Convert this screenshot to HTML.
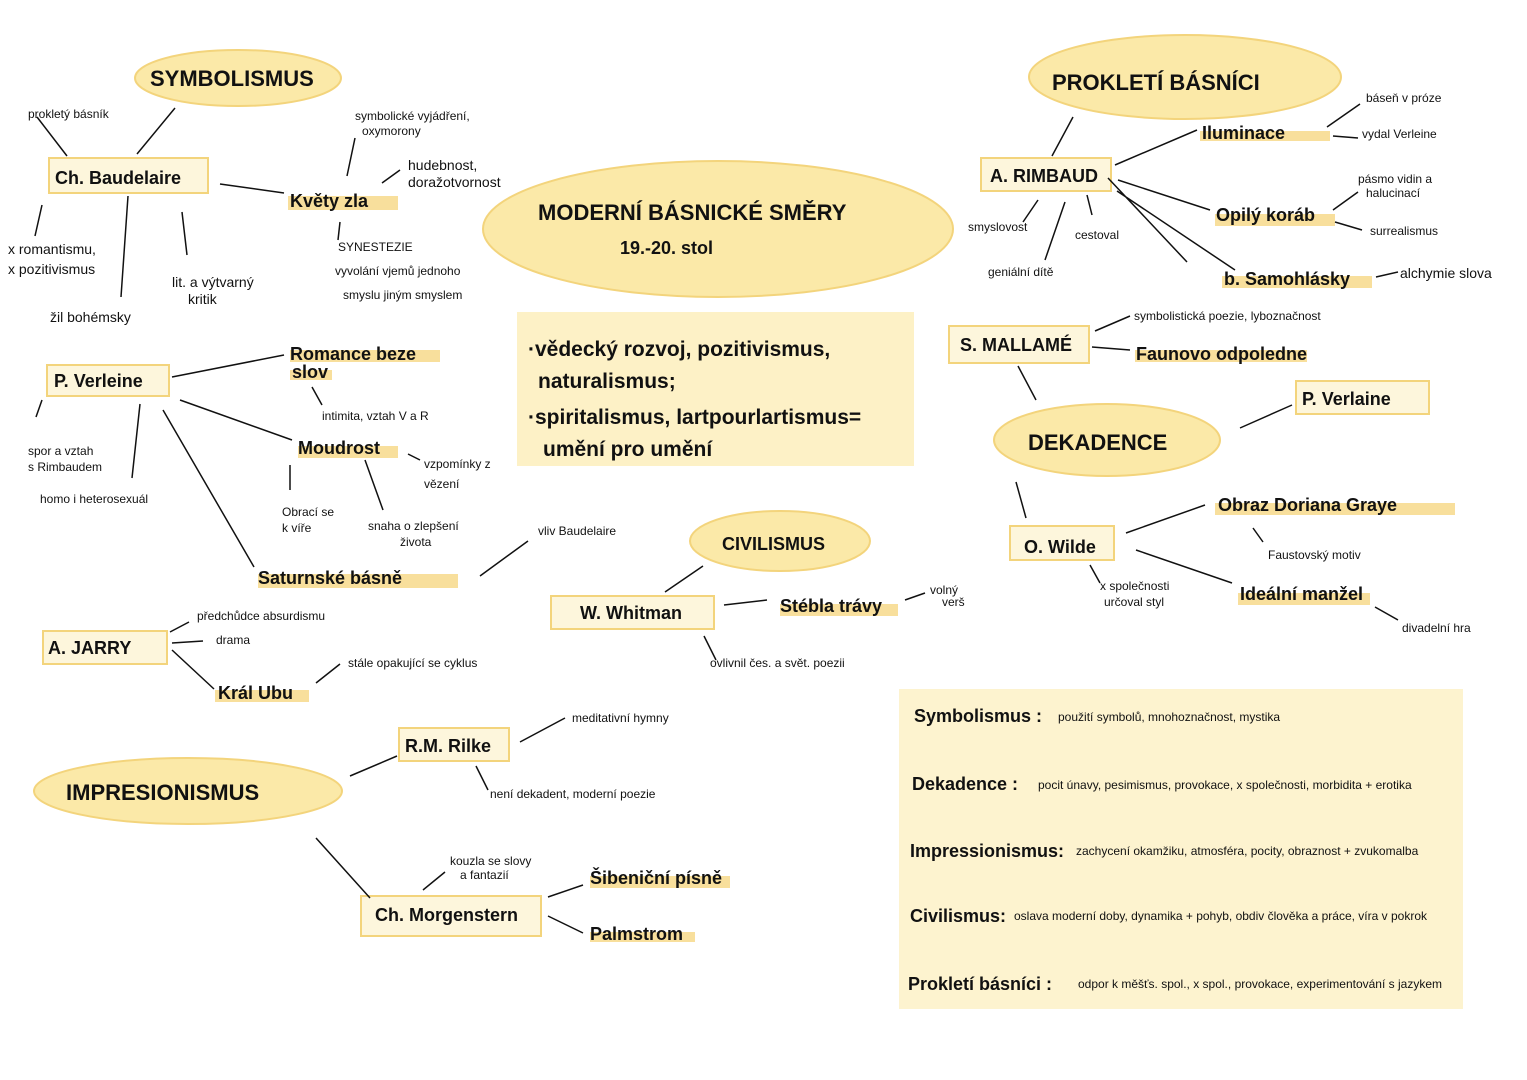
<!DOCTYPE html>
<html><head><meta charset="utf-8"><style>
html,body{margin:0;padding:0;background:#fff}
svg{display:block}
text{font-family:"Liberation Sans",sans-serif;fill:#111}
.s{font-size:12px}
.m{font-size:14px}
.b{font-size:18px;font-weight:bold}
.t{font-size:22px;font-weight:bold}
</style></head><body>
<svg width="1527" height="1080" viewBox="0 0 1527 1080" xmlns="http://www.w3.org/2000/svg">
<g fill="#fbe9a8" stroke="#f3d47c" stroke-width="2">
<ellipse cx="238" cy="78" rx="103" ry="28"/>
<ellipse cx="1185" cy="77" rx="156" ry="42"/>
<ellipse cx="718" cy="229" rx="235" ry="68"/>
<ellipse cx="1107" cy="440" rx="113" ry="36"/>
<ellipse cx="780" cy="541" rx="90" ry="30"/>
<ellipse cx="188" cy="791" rx="154" ry="33"/>
</g>
<rect x="517" y="312" width="397" height="154" fill="#fdf1c6"/>
<rect x="899" y="689" width="564" height="320" fill="#fdf3cf"/>
<g fill="#fdf6dc" stroke="#f3d47c" stroke-width="2">
<rect x="49" y="158" width="159" height="35"/>
<rect x="47" y="365" width="122" height="31"/>
<rect x="43" y="631" width="124" height="33"/>
<rect x="981" y="158" width="130" height="33"/>
<rect x="949" y="326" width="140" height="37"/>
<rect x="1296" y="381" width="133" height="33"/>
<rect x="1010" y="526" width="104" height="34"/>
<rect x="551" y="596" width="163" height="33"/>
<rect x="399" y="728" width="110" height="33"/>
<rect x="361" y="896" width="180" height="40"/>
</g>
<g fill="#f8df9c">
<rect x="288" y="196" width="110" height="14"/>
<rect x="290" y="350" width="150" height="12"/>
<rect x="290" y="370" width="42" height="10"/>
<rect x="298" y="446" width="100" height="12"/>
<rect x="258" y="574" width="200" height="14"/>
<rect x="215" y="690" width="94" height="12"/>
<rect x="780" y="604" width="118" height="12"/>
<rect x="1200" y="131" width="130" height="10"/>
<rect x="1215" y="214" width="120" height="12"/>
<rect x="1222" y="276" width="150" height="12"/>
<rect x="1135" y="350" width="172" height="12"/>
<rect x="1215" y="503" width="240" height="12"/>
<rect x="1238" y="593" width="132" height="12"/>
<rect x="590" y="876" width="140" height="12"/>
<rect x="590" y="932" width="105" height="10"/>
</g>
<g stroke="#111" stroke-width="1.5" fill="none">
<path d="M175 108 L137 154 M37 117 L67 156 M220 184 L284 193 M128 196 L121 297 M182 212 L187 255 M42 205 L35 236"/>
<path d="M355 138 L347 176 M382 183 L400 170 M340 222 L338 240"/>
<path d="M172 377 L284 355 M163 410 L254 567 M140 404 L132 478 M42 400 L36 417 M180 400 L292 440 M312 387 L322 405 M290 465 L290 490 M365 460 L383 510 M408 454 L420 460 M480 576 L528 541"/>
<path d="M170 632 L189 622 M172 643 L203 641 M172 650 L214 689 M316 683 L340 664"/>
<path d="M665 592 L703 566 M724 605 L767 600 M905 600 L925 593 M704 636 L716 660"/>
<path d="M1073 117 L1052 156 M1115 165 L1197 130 M1118 180 L1210 210 M1117 191 L1235 270 M1108 178 L1187 262 M1038 200 L1023 222 M1065 202 L1045 260 M1087 195 L1092 215 M1327 127 L1360 104 M1333 136 L1358 138 M1333 210 L1358 192 M1335 222 L1362 230 M1376 277 L1398 272"/>
<path d="M1095 331 L1130 316 M1092 347 L1130 350 M1018 366 L1036 400 M1240 428 L1292 405"/>
<path d="M1016 482 L1026 518 M1126 533 L1205 505 M1136 550 L1232 583 M1253 528 L1263 542 M1090 565 L1100 583 M1375 607 L1398 620"/>
<path d="M350 776 L397 756 M520 742 L565 718 M476 766 L488 790 M316 838 L370 898 M423 890 L445 872 M548 897 L583 885 M548 916 L583 933"/>
</g>
<text x="150" y="86" class="t" font-size="20">SYMBOLISMUS</text>
<text x="28" y="118" class="s">prokletý básník</text>
<text x="55" y="184" class="b" font-size="20">Ch. Baudelaire</text>
<text x="290" y="207" class="b">Květy zla</text>
<text x="355" y="120" class="s">symbolické vyjádření,</text>
<text x="362" y="135" class="s">oxymorony</text>
<text x="408" y="170" class="m">hudebnost,</text>
<text x="408" y="187" class="m">doražotvornost</text>
<text x="338" y="251" class="s">SYNESTEZIE</text>
<text x="335" y="275" class="s" font-size="10">vyvolání vjemů jednoho</text>
<text x="343" y="299" class="s" font-size="10">smyslu jiným smyslem</text>
<text x="8" y="254" class="m">x romantismu,</text>
<text x="8" y="274" class="m">x pozitivismus</text>
<text x="172" y="287" class="m">lit. a výtvarný</text>
<text x="188" y="304" class="m">kritik</text>
<text x="50" y="322" class="m">žil bohémsky</text>
<text x="54" y="387" class="b">P. Verleine</text>
<text x="290" y="360" class="b">Romance beze</text>
<text x="292" y="378" class="b">slov</text>
<text x="322" y="420" class="s">intimita, vztah V a R</text>
<text x="298" y="454" class="b">Moudrost</text>
<text x="28" y="455" class="s">spor a vztah</text>
<text x="28" y="471" class="s">s Rimbaudem</text>
<text x="40" y="503" class="s">homo i heterosexuál</text>
<text x="424" y="468" class="s">vzpomínky z</text>
<text x="424" y="488" class="s">vězení</text>
<text x="282" y="516" class="s">Obrací se</text>
<text x="282" y="532" class="s">k víře</text>
<text x="368" y="530" class="s">snaha o zlepšení</text>
<text x="400" y="546" class="s">života</text>
<text x="538" y="535" class="s">vliv Baudelaire</text>
<text x="258" y="584" class="b" font-size="20">Saturnské básně</text>
<text x="48" y="654" class="b">A. JARRY</text>
<text x="197" y="620" class="s" font-size="11">předchůdce absurdismu</text>
<text x="216" y="644" class="s" font-size="11">drama</text>
<text x="218" y="699" class="b" font-size="16">Král Ubu</text>
<text x="348" y="667" class="s" font-size="11">stále opakující se cyklus</text>
<text x="538" y="220" class="t" font-size="26">MODERNÍ BÁSNICKÉ SMĚRY</text>
<text x="620" y="254" class="b" font-size="22">19.-20. stol</text>
<text x="528" y="356" font-size="21" font-weight="bold">·vědecký rozvoj, pozitivismus,</text>
<text x="538" y="388" font-size="21" font-weight="bold">naturalismus;</text>
<text x="528" y="424" font-size="21" font-weight="bold">·spiritalismus, lartpourlartismus=</text>
<text x="543" y="456" font-size="21" font-weight="bold">umění pro umění</text>
<text x="722" y="550" class="b" font-size="20">CIVILISMUS</text>
<text x="580" y="619" class="b" font-size="19">W. Whitman</text>
<text x="780" y="612" class="b" font-size="17">Stébla trávy</text>
<text x="930" y="594" class="s" font-size="10">volný</text>
<text x="942" y="606" class="s" font-size="10">verš</text>
<text x="710" y="667" class="s">ovlivnil čes. a svět. poezii</text>
<text x="1052" y="90" class="t" font-size="26">PROKLETÍ BÁSNÍCI</text>
<text x="990" y="182" class="b">A. RIMBAUD</text>
<text x="1202" y="139" class="b">Iluminace</text>
<text x="1366" y="102" class="s">báseň v próze</text>
<text x="1362" y="138" class="s">vydal Verleine</text>
<text x="1216" y="221" class="b" font-size="17">Opilý koráb</text>
<text x="1358" y="183" class="s" font-size="11">pásmo vidin a</text>
<text x="1366" y="197" class="s" font-size="11">halucinací</text>
<text x="1370" y="235" class="s" font-size="11">surrealismus</text>
<text x="968" y="231" class="s">smyslovost</text>
<text x="1075" y="239" class="s">cestoval</text>
<text x="988" y="276" class="s">geniální dítě</text>
<text x="1224" y="285" class="b" font-size="17">b. Samohlásky</text>
<text x="1400" y="278" class="m">alchymie slova</text>
<text x="960" y="351" class="b">S. MALLAMÉ</text>
<text x="1134" y="320" class="s" font-size="11">symbolistická poezie, lyboznačnost</text>
<text x="1136" y="360" class="b" font-size="16">Faunovo odpoledne</text>
<text x="1302" y="405" class="b" font-size="20">P. Verlaine</text>
<text x="1028" y="450" class="t" font-size="28" font-weight="normal">DEKADENCE</text>
<text x="1218" y="511" class="b">Obraz Doriana Graye</text>
<text x="1024" y="553" class="b">O. Wilde</text>
<text x="1268" y="559" class="s">Faustovský motiv</text>
<text x="1100" y="590" class="s" font-size="11">x společnosti</text>
<text x="1104" y="606" class="s" font-size="11">určoval styl</text>
<text x="1240" y="600" class="b">Ideální manžel</text>
<text x="1402" y="632" class="s" font-size="11">divadelní hra</text>
<text x="405" y="752" class="b">R.M. Rilke</text>
<text x="572" y="722" class="s" font-size="11">meditativní hymny</text>
<text x="490" y="798" class="s" font-size="11">není dekadent, moderní poezie</text>
<text x="66" y="800" class="t" font-size="24" font-weight="normal">IMPRESIONISMUS</text>
<text x="450" y="865" class="s">kouzla se slovy</text>
<text x="460" y="879" class="s">a fantazií</text>
<text x="590" y="884" class="b">Šibeniční písně</text>
<text x="375" y="921" class="b">Ch. Morgenstern</text>
<text x="590" y="940" class="b" font-size="16">Palmstrom</text>
<g>
<text x="914" y="722" class="b">Symbolismus :</text><text x="1058" y="721" class="s" font-size="11">použití symbolů, mnohoznačnost, mystika</text>
<text x="912" y="790" class="b">Dekadence :</text><text x="1038" y="789" class="s" font-size="11">pocit únavy, pesimismus, provokace, x společnosti, morbidita + erotika</text>
<text x="910" y="857" class="b">Impressionismus:</text><text x="1076" y="855" class="s" font-size="10">zachycení okamžiku, atmosféra, pocity, obraznost + zvukomalba</text>
<text x="910" y="922" class="b">Civilismus:</text><text x="1014" y="920" class="s" font-size="10">oslava moderní doby, dynamika + pohyb, obdiv člověka a práce, víra v pokrok</text>
<text x="908" y="990" class="b">Prokletí básníci :</text><text x="1078" y="988" class="s" font-size="10">odpor k měšťs. spol., x spol., provokace, experimentování s jazykem</text>
</g>
</svg>
</body></html>
